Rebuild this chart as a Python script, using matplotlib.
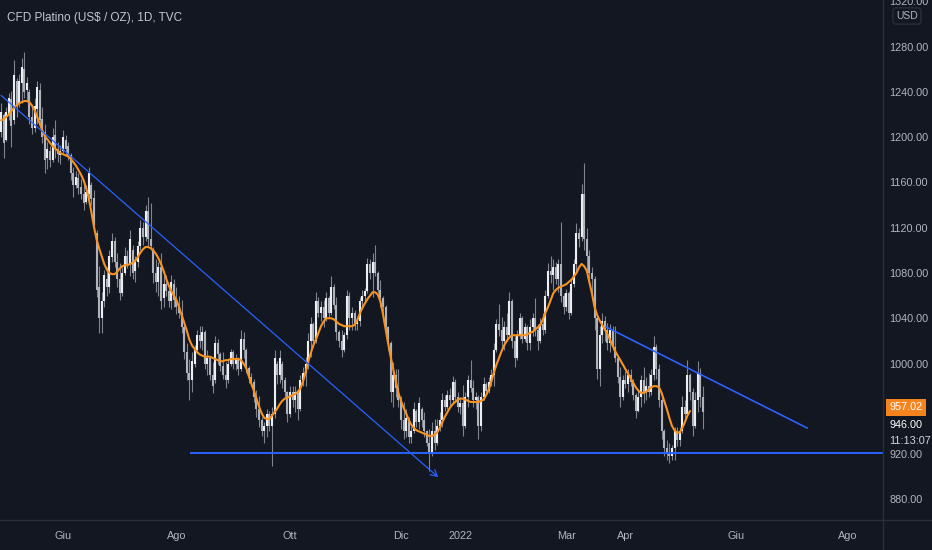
import numpy as np
import pandas as pd
import matplotlib
matplotlib.use('Agg')
import matplotlib.pyplot as plt
from matplotlib import transforms
from matplotlib.lines import Line2D

plt.rcParams['font.family'] = ['Liberation Sans', 'DejaVu Sans']

# daily bars, first bar 2021-04-28
start_day = '2021-04-28'

opens = [
    1205, 1220, 1198, 1220, 1234, 1215, 1250, 1230, 1248, 1260,
    1242, 1240, 1218, 1208, 1225, 1242, 1216, 1205, 1182, 1188,
    1180, 1202, 1190, 1184, 1188, 1198, 1192, 1184, 1168, 1158,
    1164, 1156, 1150, 1143, 1150, 1158, 1146, 1115, 1068, 1040,
    1055, 1075, 1068, 1094, 1108, 1090, 1075, 1062, 1080, 1095,
    1088, 1100, 1082, 1090, 1104, 1120, 1112, 1135, 1110, 1100,
    1080, 1072, 1085, 1058, 1070, 1064, 1055, 1070, 1056, 1050,
    1045, 1032, 1010, 992, 985, 1000, 1012, 1025, 1020, 1028,
    1000, 1005, 990, 985, 1018, 1008, 998, 990, 985, 1000,
    1010, 1000, 1004, 995, 1022, 1012, 996, 988, 984, 970,
    960, 950, 940, 945, 955, 945, 955, 1000, 990, 1000,
    985, 975, 955, 975, 968, 975, 960, 985, 992, 1000,
    1020, 1035, 1020, 1055, 1045, 1050, 1040, 1058, 1045, 1068,
    1052, 1028, 1020, 1012, 1025, 1060, 1040, 1045, 1035, 1038,
    1055, 1060, 1064, 1088, 1080, 1090, 1080, 1065, 1058, 1050,
    1032, 1018, 975, 990, 978, 968, 950, 940, 950, 935,
    940, 958, 948, 960, 950, 940, 930, 920, 940, 930,
    945, 950, 968, 962, 972, 968, 984, 970, 962, 965,
    945, 970, 985, 978, 968, 970, 945, 970, 982, 976,
    984, 990, 1012, 1035, 1030, 1020, 1032, 1025, 1055, 1020,
    1005, 1025, 1040, 1022, 1032, 1018, 1032, 1040, 1030, 1020,
    1035, 1030, 1060, 1082, 1078, 1085, 1075, 1088, 1060, 1050,
    1062, 1045, 1070, 1088, 1115, 1112, 1150, 1110, 1095, 1080,
    1075, 1040, 995, 1025, 1038, 1030, 1018, 1030, 1015, 1005,
    988, 970, 985, 982, 990, 984, 972, 958, 970, 985,
    975, 980, 975, 990, 1015, 995, 968, 940, 925, 920,
    918, 925, 940, 932, 940, 962, 955, 990, 975, 945,
    968, 992, 970,
]
highs = [
    1230, 1221, 1227, 1239, 1241, 1268, 1252, 1256, 1270, 1275,
    1253, 1243, 1227, 1235, 1250, 1248, 1227, 1212, 1196, 1192,
    1208, 1215, 1196, 1193, 1206, 1202, 1196, 1186, 1174, 1170,
    1168, 1163, 1160, 1158, 1174, 1160, 1153, 1118, 1086, 1063,
    1083, 1085, 1100, 1115, 1112, 1098, 1089, 1085, 1103, 1100,
    1118, 1105, 1095, 1108, 1127, 1125, 1140, 1147, 1142, 1103,
    1092, 1090, 1098, 1078, 1078, 1068, 1078, 1075, 1068, 1060,
    1056, 1036, 1018, 1004, 1010, 1016, 1030, 1033, 1033, 1030,
    1012, 1007, 1001, 1024, 1022, 1010, 1010, 1001, 1004, 1013,
    1012, 1008, 1006, 1030, 1028, 1014, 998, 992, 986, 977,
    971, 953, 948, 960, 958, 962, 1012, 1002, 1012, 1002,
    988, 976, 980, 980, 980, 977, 990, 997, 1006, 1027,
    1041, 1037, 1063, 1059, 1055, 1056, 1063, 1060, 1077, 1070,
    1059, 1030, 1030, 1028, 1065, 1063, 1050, 1047, 1040, 1059,
    1065, 1067, 1093, 1092, 1098, 1105, 1082, 1074, 1060, 1052,
    1033, 1020, 1001, 995, 995, 971, 966, 960, 953, 945,
    966, 960, 970, 962, 957, 941, 942, 948, 951, 951,
    957, 974, 972, 977, 978, 989, 986, 975, 970, 981,
    975, 990, 1003, 985, 975, 972, 975, 988, 984, 988,
    995, 1018, 1039, 1053, 1041, 1038, 1045, 1063, 1057, 1024,
    1030, 1045, 1042, 1036, 1034, 1039, 1045, 1058, 1035, 1040,
    1045, 1065, 1089, 1095, 1092, 1090, 1092, 1125, 1062, 1066,
    1064, 1075, 1092, 1124, 1120, 1159, 1177, 1120, 1100, 1085,
    1077, 1042, 1033, 1045, 1042, 1036, 1035, 1033, 1033, 1006,
    997, 990, 993, 995, 995, 986, 974, 976, 990, 997,
    988, 992, 995, 1024, 1017, 1000, 974, 942, 932, 930,
    928, 944, 944, 944, 971, 968, 1003, 992, 978, 975,
    1002, 996, 980,
]
lows = [
    1200, 1182, 1197, 1215, 1191, 1212, 1218, 1227, 1230, 1235,
    1233, 1212, 1203, 1205, 1212, 1209, 1195, 1168, 1172, 1174,
    1178, 1182, 1178, 1176, 1186, 1183, 1180, 1162, 1147, 1155,
    1150, 1145, 1136, 1141, 1147, 1140, 1118, 1059, 1027, 1027,
    1050, 1060, 1062, 1090, 1085, 1068, 1056, 1060, 1078, 1084,
    1077, 1075, 1072, 1085, 1100, 1105, 1108, 1103, 1100, 1071,
    1063, 1060, 1048, 1050, 1060, 1050, 1048, 1050, 1044, 1040,
    1027, 1004, 985, 968, 975, 997, 1010, 1014, 1012, 995,
    990, 985, 974, 983, 1000, 993, 986, 978, 983, 998,
    995, 994, 990, 993, 1005, 992, 983, 980, 966, 953,
    944, 936, 930, 935, 940, 909, 952, 982, 983, 978,
    970, 948, 953, 962, 957, 950, 958, 980, 980, 995,
    1006, 1015, 1018, 1041, 1038, 1032, 1038, 1040, 1043, 1048,
    1021, 1015, 1006, 1010, 1022, 1030, 1030, 1030, 1030, 1033,
    1048, 1055, 1062, 1075, 1059, 1077, 1062, 1050, 1045, 1028,
    1012, 966, 962, 970, 962, 942, 933, 935, 930, 930,
    939, 944, 942, 944, 935, 927, 905, 918, 924, 928,
    940, 944, 958, 960, 962, 965, 966, 957, 955, 936,
    943, 962, 975, 962, 960, 933, 940, 968, 972, 974,
    980, 980, 1010, 1024, 1015, 1012, 1020, 1024, 1014, 997,
    1003, 1022, 1018, 1020, 1012, 1012, 1024, 1024, 1012, 1018,
    1025, 1027, 1058, 1071, 1065, 1070, 1063, 1054, 1044, 1046,
    1039, 1043, 1068, 1080, 1103, 1108, 1100, 1083, 1071, 1062,
    1030, 986, 980, 1018, 1020, 1012, 1010, 1012, 1001, 983,
    962, 968, 978, 975, 980, 968, 952, 957, 962, 965,
    968, 970, 972, 985, 986, 962, 933, 918, 915, 912,
    915, 915, 927, 927, 939, 950, 953, 968, 936, 943,
    957, 962, 942,
]
closes = [
    1222, 1195, 1222, 1235, 1210, 1255, 1228, 1250, 1262, 1240,
    1248, 1218, 1208, 1228, 1244, 1215, 1200, 1180, 1190, 1180,
    1200, 1190, 1185, 1188, 1200, 1190, 1184, 1168, 1158, 1165,
    1155, 1150, 1142, 1152, 1168, 1145, 1122, 1065, 1040, 1055,
    1078, 1068, 1095, 1108, 1090, 1075, 1062, 1080, 1095, 1088,
    1110, 1080, 1090, 1104, 1120, 1112, 1135, 1110, 1104, 1080,
    1072, 1085, 1055, 1070, 1064, 1055, 1072, 1056, 1050, 1045,
    1032, 1010, 992, 985, 1002, 1012, 1025, 1020, 1028, 1000,
    1005, 990, 980, 1018, 1008, 998, 990, 985, 1000, 1010,
    1000, 1004, 995, 1022, 1012, 996, 988, 984, 970, 960,
    950, 940, 945, 955, 945, 955, 1005, 990, 1005, 985,
    975, 955, 975, 968, 975, 960, 985, 992, 1000, 1020,
    1035, 1020, 1055, 1045, 1050, 1040, 1058, 1045, 1068, 1052,
    1028, 1020, 1012, 1025, 1060, 1040, 1045, 1035, 1038, 1055,
    1060, 1064, 1088, 1080, 1090, 1080, 1065, 1058, 1050, 1032,
    1018, 975, 990, 978, 968, 950, 940, 952, 935, 940,
    960, 948, 965, 950, 940, 930, 920, 940, 930, 945,
    950, 968, 962, 972, 968, 984, 970, 962, 965, 945,
    970, 985, 978, 968, 970, 945, 970, 982, 976, 984,
    990, 1012, 1035, 1030, 1020, 1032, 1025, 1055, 1020, 1005,
    1025, 1040, 1022, 1032, 1018, 1032, 1040, 1030, 1020, 1035,
    1030, 1060, 1082, 1078, 1085, 1075, 1088, 1060, 1050, 1062,
    1045, 1070, 1088, 1115, 1110, 1150, 1110, 1095, 1080, 1075,
    1040, 995, 1025, 1038, 1030, 1018, 1030, 1015, 1005, 988,
    970, 985, 982, 990, 984, 972, 958, 970, 985, 975,
    980, 975, 990, 1015, 995, 968, 940, 925, 920, 918,
    925, 940, 932, 940, 962, 955, 990, 975, 945, 968,
    992, 970, 957.02,
]

# orange smoothing line, stops a few bars before the last one
ma_vals = [
    1215, 1216, 1218, 1220, 1223, 1226, 1228, 1230, 1231, 1232,
    1232, 1231, 1228, 1224, 1218, 1212, 1206, 1201, 1198, 1195,
    1192, 1190, 1188, 1186, 1185, 1184, 1183, 1181, 1178, 1175,
    1171, 1167, 1162, 1155, 1146, 1134, 1121, 1110, 1102, 1095,
    1088, 1083, 1080, 1079, 1079, 1081, 1084, 1086, 1087, 1087,
    1088, 1089, 1091, 1094, 1098, 1101, 1103, 1103, 1102, 1100,
    1097, 1093, 1088, 1082, 1075, 1069, 1064, 1060, 1056, 1050,
    1043, 1036, 1029, 1021, 1016, 1013, 1010, 1008, 1007, 1006,
    1006, 1006, 1005, 1004, 1003, 1002, 1002, 1003, 1003, 1004,
    1004, 1004, 1004, 1003, 1000, 996, 989, 982, 976, 969,
    962, 956, 952, 951, 951, 954, 957, 960, 964, 967,
    969, 970, 971, 972, 973, 975, 978, 984, 992, 1001,
    1009, 1016, 1021, 1027, 1033, 1037, 1040, 1040, 1040, 1039,
    1037, 1035, 1034, 1033, 1033, 1033, 1033, 1034, 1038, 1044,
    1049, 1053, 1057, 1060, 1063, 1063, 1061, 1055, 1044, 1031,
    1018, 1006, 995, 984, 974, 967, 961, 956, 950, 946,
    943, 941, 940, 939, 938, 937, 936, 936, 937, 939,
    943, 948, 953, 957, 961, 964, 966, 968, 969, 969,
    968, 967, 966, 966, 966, 966, 967, 968, 972, 977,
    984, 992, 999, 1005, 1011, 1016, 1020, 1023, 1025, 1025,
    1025, 1025, 1025, 1025, 1026, 1027, 1028, 1030, 1032, 1034,
    1039, 1045, 1050, 1056, 1062, 1065, 1067, 1068, 1069, 1070,
    1072, 1074, 1077, 1080, 1085, 1088, 1086, 1082, 1072, 1062,
    1050, 1043, 1038, 1034, 1030, 1026, 1021, 1016, 1011, 1007,
    1003, 999, 995, 991, 987, 983, 979, 976, 974, 974,
    975, 977, 979, 980, 980, 979, 974, 967, 960, 952,
    945, 941, 939, 939, 943, 948, 954, 958,
]

# hand drawn lines: (bar number, price)
fall_line = [(0, 1237), (169.4, 899.6)]
support_line = [(73.6, 921), (400, 921)]
upper_line = [(234.5, 1032.3), (312.4, 943)]

price_ticks = [880, 920, 1000, 1040, 1080, 1120, 1160, 1200, 1240, 1280, 1320]
month_ticks = ['2021-06', '2021-08', '2021-10', '2021-12', '2022-01',
               '2022-03', '2022-04', '2022-06', '2022-08']
month_labels = ['Giu', 'Ago', 'Ott', 'Dic', '2022', 'Mar', 'Apr', 'Giu', 'Ago']
last_price = 957.02
other_price = 946.00
countdown = '11:13:07'
title = 'CFD Platino (US$ / OZ), 1D, TVC'

bg = '#131722'
txt = '#b2b5be'
blue = '#2962ff'
fs = 7.8

opens = np.array(opens, float)
highs = np.array(highs, float)
lows = np.array(lows, float)
closes = np.array(closes, float)
x = np.arange(len(closes))
days = pd.bdate_range(start_day, periods=420)

fig = plt.figure(figsize=(9.32, 5.5), dpi=100, facecolor=bg)
ax = fig.add_axes([0, 30 / 550, 883 / 932, 520 / 550])
ax.set_facecolor(bg)

up = closes >= opens
ax.vlines(x, lows, highs, color='#80848f', lw=0.8, zorder=2)
ax.vlines(x[up], opens[up], closes[up], color='#eceef2', lw=1.5, zorder=3)
ax.vlines(x[~up], closes[~up], opens[~up], color='#b0b3bb', lw=1.5, zorder=3)

ax.plot(np.arange(len(ma_vals)), ma_vals, color='#f7931e', lw=1.5, zorder=4,
        solid_capstyle='round')

# trend lines
ax.annotate('', xy=fall_line[1], xytext=fall_line[0],
            arrowprops=dict(arrowstyle='->,head_length=0.45,head_width=0.25',
                            color=blue, lw=0.9, shrinkA=0, shrinkB=0), zorder=5)
ax.plot(*zip(*support_line), color=blue, lw=1.4, zorder=5)
ax.plot(*zip(*upper_line), color=blue, lw=1.2, zorder=5)

ax.set_xlim(-0.4, 341.8)
ax.set_ylim(861.7, 1321.3)

# price scale on the right
ax.yaxis.tick_right()
ax.set_yticks(price_ticks)
ax.set_yticklabels([f'{v:.2f}' for v in price_ticks])

# time scale
tick_pos = [int(np.searchsorted(days, pd.Timestamp(m + '-01'))) for m in month_ticks]
ax.set_xticks(tick_pos)
ax.set_xticklabels(month_labels)
ax.tick_params(axis='both', length=0, colors=txt, labelsize=fs)
ax.tick_params(axis='y', pad=4.5)
ax.tick_params(axis='x', pad=8)
for s in ax.spines.values():
    s.set_visible(False)

# panel separators
fig.add_artist(Line2D([883 / 932, 883 / 932], [0, 1], color='#2a2e39', lw=1))
fig.add_artist(Line2D([0, 1], [30 / 550, 30 / 550], color='#2a2e39', lw=1))

# last price tag and labels
tr = transforms.blended_transform_factory(ax.transAxes, ax.transData)
ax.annotate(f'{last_price:.2f}', xy=(1, last_price), xycoords=tr,
            xytext=(4.5, 3.4), textcoords='offset points', va='center', ha='left',
            color='white', fontsize=fs, annotation_clip=False,
            bbox=dict(boxstyle='square,pad=0.3', fc='#f5841f', ec='none'))
ax.annotate(f'{other_price:.2f}', xy=(1, other_price), xycoords=tr,
            xytext=(4.5, 0), textcoords='offset points', va='center', ha='left',
            color='white', fontsize=fs, annotation_clip=False)
ax.annotate(countdown, xy=(1, other_price), xycoords=tr,
            xytext=(4.5, -11.5), textcoords='offset points', va='center', ha='left',
            color='#d1d4dc', fontsize=fs, annotation_clip=False)

fig.text(907 / 932, 1 - 16 / 550, 'USD', color=txt, fontsize=7.5, ha='center', va='center',
         bbox=dict(boxstyle='round,pad=0.3', fc=bg, ec='#2a2e39'))
fig.text(7 / 932, 1 - 18 / 550, title, color='#c3c6ce', fontsize=8.5, ha='left', va='center')

fig.savefig('out.png', dpi=100, facecolor=bg)
